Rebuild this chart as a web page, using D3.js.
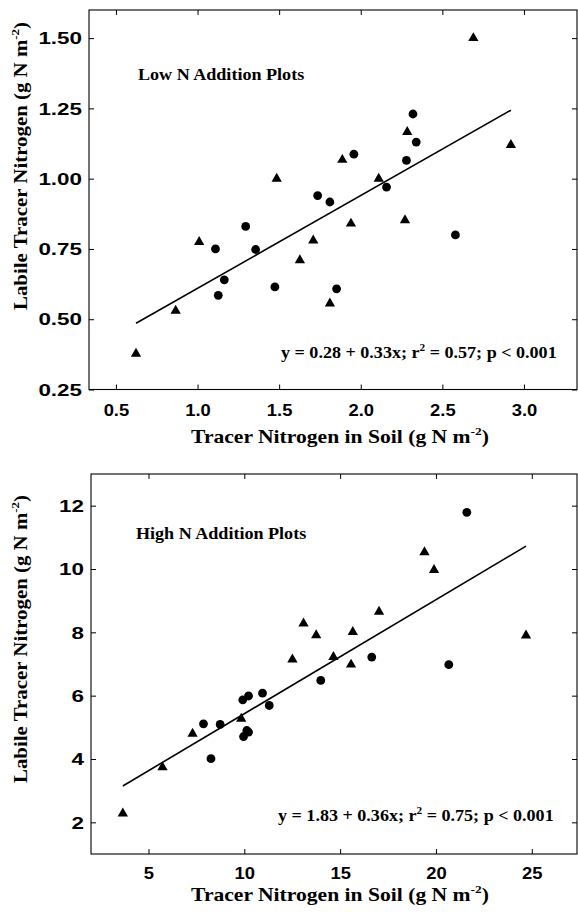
<!DOCTYPE html>
<html><head><meta charset="utf-8">
<script src="https://cdn.jsdelivr.net/npm/d3@7"></script>
<style>body{margin:0;background:#fff} text{white-space:pre}</style>
</head><body>
<svg id="c" width="578" height="913"></svg>
<script>
// ---- Low N addition plots ----
const lowTriX  = [2.69, 2.285, 2.92, 1.887, 1.485, 2.11, 2.271, 1.94, 1.709, 1.01, 1.627, 1.811, 0.866, 0.623];
const lowTriY  = [1.50, 1.166, 1.12, 1.067, 1.00, 1.00, 0.852, 0.84, 0.78, 0.775, 0.71, 0.556, 0.53, 0.377];
const lowCircX = [2.32, 2.34, 2.28, 1.958, 2.158, 1.736, 1.811, 1.295, 2.58, 1.11, 1.356, 1.164, 1.127, 1.474, 1.852];
const lowCircY = [1.23, 1.13, 1.065, 1.087, 0.97, 0.94, 0.917, 0.83, 0.80, 0.75, 0.748, 0.64, 0.585, 0.615, 0.608];
const lowFit = [0.28, 0.33];
const lowXTicks = [0.5, 1.0, 1.5, 2.0, 2.5, 3.0];
const lowYTicks = [0.25, 0.50, 0.75, 1.00, 1.25, 1.50];
const lowXDomain = [0.335, 3.325];
const lowYDomain = [0.25, 1.6];

// ---- High N addition plots ----
const highTriX  = [19.40, 19.90, 17.03, 13.09, 24.70, 13.75, 15.66, 14.65, 12.51, 15.57, 9.84, 7.30, 5.73, 3.66];
const highTriY  = [10.53, 9.97, 8.65, 8.28, 7.90, 7.91, 8.01, 7.22, 7.14, 6.98, 5.27, 4.80, 3.74, 2.28];
const highCircX = [21.61, 16.65, 20.67, 13.99, 10.95, 10.22, 9.92, 11.30, 7.87, 8.74, 10.13, 10.22, 9.96, 8.26];
const highCircY = [11.79, 7.22, 6.98, 6.48, 6.08, 5.99, 5.87, 5.69, 5.11, 5.09, 4.90, 4.85, 4.71, 4.01];
const highFit = [1.83, 0.36];
const highXTicks = [5, 10, 15, 20, 25];
const highYTicks = [2, 4, 6, 8, 10, 12];
const highXDomain = [2.0, 27.36];
const highYDomain = [1.0, 13.0];

const xTitle = ['Tracer Nitrogen in Soil (g N m', {sup:'-2'}, ')'];
const yTitle = ['Labile Tracer Nitrogen (g N m', {sup:'-2'}, ')'];

const svg = d3.select('#c');
const SERIF = '"Liberation Serif","Times New Roman",serif';
const SANS = '"Liberation Sans",Arial,sans-serif';

function richText(parent, x, y, parts, size, sx, anchor, rot) {
  const g = parent.append('g').attr('transform', `translate(${x},${y}) rotate(${rot||0}) scale(${sx},1)`);
  const t = g.append('text').attr('text-anchor', anchor).attr('font-family', SERIF)
    .attr('font-weight', 'bold').attr('font-size', size).attr('fill', '#000');
  const up = size * 0.42;
  let raised = false;
  parts.forEach(p => {
    if (typeof p === 'string') {
      const ts = t.append('tspan').text(p);
      if (raised) { ts.attr('dy', up); raised = false; }
    } else {
      t.append('tspan').attr('dy', -up).attr('font-size', size * 0.62).text(p.sup);
      raised = true;
    }
  });
  return t;
}

function panel(cfg) {
  const x = d3.scaleLinear().domain(cfg.xDomain).range([cfg.left, cfg.right]);
  const y = d3.scaleLinear().domain(cfg.yDomain).range([cfg.bottom, cfg.top]);
  const g = svg.append('g');

  g.append('rect').attr('x', cfg.left).attr('y', cfg.top)
    .attr('width', cfg.right - cfg.left).attr('height', cfg.bottom - cfg.top)
    .attr('fill', 'none').attr('stroke', '#000').attr('stroke-width', 1.1);

  const ax = g.append('g').attr('transform', `translate(0,${cfg.bottom})`)
    .call(d3.axisBottom(x).tickValues(cfg.xTicks).tickSize(-5).tickFormat(cfg.xFmt));
  ax.select('.domain').remove();
  ax.selectAll('text').attr('y', 0).attr('dy', null)
    .attr('transform', `translate(0,${cfg.xLabOff}) scale(1.15,1)`)
    .attr('font-family', SANS).attr('font-weight', 'bold').attr('font-size', 16).attr('fill', '#000');

  const ay = g.append('g').attr('transform', `translate(${cfg.left},0)`)
    .call(d3.axisLeft(y).tickValues(cfg.yTicks).tickSize(-5).tickFormat(cfg.yFmt));
  ay.select('.domain').remove();
  ay.selectAll('text').attr('x', 0).attr('dy', '0.36em')
    .attr('transform', `translate(-7,0) scale(1.4,1)`)
    .attr('font-family', SANS).attr('font-weight', 'bold').attr('font-size', 16).attr('fill', '#000');

  const at = g.append('g').attr('transform', `translate(0,${cfg.top})`)
    .call(d3.axisTop(x).tickValues(cfg.xTicks).tickSize(-5).tickFormat(''));
  at.select('.domain').remove();
  const ar = g.append('g').attr('transform', `translate(${cfg.right},0)`)
    .call(d3.axisRight(y).tickValues(cfg.yTicks).tickSize(-5).tickFormat(''));
  ar.select('.domain').remove();
  g.selectAll('.tick line').attr('stroke', '#000');

  // regression line over the data range
  const ext = d3.extent(cfg.triX.concat(cfg.circX));
  const line = d3.line().x(d => x(d)).y(d => y(cfg.fit[0] + cfg.fit[1] * d));
  g.append('path').datum(ext).attr('d', line).attr('fill', 'none')
    .attr('stroke', '#000').attr('stroke-width', 1.6);

  // points
  const tri = d3.symbol(d3.symbolTriangle, 46);
  g.selectAll('.tri').data(d3.zip(cfg.triX, cfg.triY)).join('path')
    .attr('d', tri).attr('transform', d => `translate(${x(d[0])},${y(d[1])})`).attr('fill', '#000');
  g.selectAll('.cir').data(d3.zip(cfg.circX, cfg.circY)).join('circle')
    .attr('cx', d => x(d[0])).attr('cy', d => y(d[1])).attr('r', 4.4).attr('fill', '#000');

  // annotations
  richText(g, cfg.left + cfg.nameDx, cfg.nameY, [cfg.name], 16, 1.13, 'start');
  richText(g, cfg.eqX, cfg.eqY, cfg.eq, 16, 1.13, 'start');
  // titles
  richText(g, 340, cfg.xTitleY, xTitle, 18, 1.2, 'middle');
  richText(g, 27, cfg.yTitleC, yTitle, 18, 1.16, 'middle', -90);
}

panel({
  left: 89, right: 577, top: 10, bottom: 389.5,
  xDomain: lowXDomain, yDomain: lowYDomain, xTicks: lowXTicks, yTicks: lowYTicks,
  xFmt: d3.format('.1f'), yFmt: d3.format('.2f'),
  triX: lowTriX, triY: lowTriY, circX: lowCircX, circY: lowCircY, fit: lowFit,
  xLabOff: 26, name: 'Low N Addition Plots', nameDx: 49, nameY: 80,
  eq: ['y = 0.28 + 0.33x; r', {sup:'2'}, ' = 0.57; p < 0.001'], eqX: 281, eqY: 358,
  xTitleY: 443, yTitleC: 166
});
panel({
  left: 91, right: 577, top: 474, bottom: 854,
  xDomain: highXDomain, yDomain: highYDomain, xTicks: highXTicks, yTicks: highYTicks,
  xFmt: d3.format('d'), yFmt: d3.format('d'),
  triX: highTriX, triY: highTriY, circX: highCircX, circY: highCircY, fit: highFit,
  xLabOff: 25, name: 'High N Addition Plots', nameDx: 45, nameY: 539,
  eq: ['y = 1.83 + 0.36x; r', {sup:'2'}, ' = 0.75; p < 0.001'], eqX: 278, eqY: 821,
  xTitleY: 901, yTitleC: 639
});
</script>
</body></html>
